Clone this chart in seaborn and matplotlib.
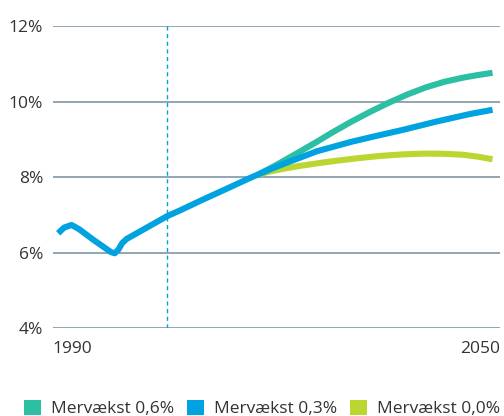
import numpy as np
import pandas as pd
import matplotlib
matplotlib.use("Agg")
import matplotlib.pyplot as plt
import seaborn as sns
from matplotlib.patches import Patch

sns.set_theme(style="white")
plt.rcParams['font.family'] = ['Open Sans', 'DejaVu Sans']

# historical + 0.3% scenario (blue)
years_blue = [1990.7, 1991.5, 1992.5, 1993.5, 1995.4, 1997, 1997.8, 1998.3, 1998.8, 1999.3,
              1999.9, 2001.7, 2005.3, 2007, 2010, 2013, 2016.4, 2019, 2021, 2025.4,
              2030, 2033, 2037, 2041.5, 2046, 2049]
vals_blue = [6.51, 6.66, 6.73, 6.62, 6.34, 6.12, 6.01, 5.98, 6.08, 6.25,
             6.36, 6.56, 6.96, 7.11, 7.39, 7.66, 7.97, 8.19, 8.35, 8.68,
             8.93, 9.07, 9.25, 9.47, 9.67, 9.78]

years_06 = [2017.5, 2020, 2022.5, 2025.4, 2027.5, 2030, 2032.5, 2035, 2037.5, 2040,
            2042.5, 2045, 2047, 2049]
vals_06 = [8.06, 8.32, 8.60, 8.93, 9.18, 9.46, 9.72, 9.96, 10.18, 10.37,
           10.52, 10.63, 10.70, 10.76]

years_00 = [2017.5, 2019, 2021, 2023, 2025.4, 2028, 2031, 2034, 2037, 2040,
            2042.5, 2045, 2047, 2049]
vals_00 = [8.06, 8.14, 8.22, 8.29, 8.36, 8.43, 8.50, 8.56, 8.60, 8.62,
           8.615, 8.59, 8.54, 8.47]

labels = ["Mervækst 0,6%", "Mervækst 0,3%", "Mervækst 0,0%"]
colors = ["#2bbfa4", "#00a3e0", "#bcd631"]
yticks = [4, 6, 8, 10, 12]

fig = plt.figure(figsize=(5.04, 4.16), dpi=100)
ax = fig.add_axes([0.105, 0.2115, 0.887, 0.726])

for y in yticks:
    ax.axhline(y, color="#7e97a6", lw=1.2, zorder=0)
ax.axvline(2005.3, color="#00a3e0", lw=1.0, ls=(0, (3, 2.5)), zorder=1)

lw = 4.4
kw = dict(lw=lw, solid_joinstyle="round", solid_capstyle="butt")
sns.lineplot(x=years_06, y=vals_06, ax=ax, color=colors[0], **kw)
sns.lineplot(x=years_00, y=vals_00, ax=ax, color=colors[2], **kw)
sns.lineplot(x=years_blue, y=vals_blue, ax=ax, color=colors[1], **kw)

ax.set_xlim(1990, 2050)
ax.set_ylim(4, 12)
ax.set_yticks(yticks)
ax.set_yticklabels([f"{v}%" for v in yticks], fontsize=12.5, color="#333333")
ax.set_xticks([1990, 2050])
ax.set_xticklabels(["1990", "2050"], fontsize=12.5, color="#333333")
ax.get_xticklabels()[0].set_horizontalalignment("left")
ax.get_xticklabels()[1].set_horizontalalignment("right")
ax.tick_params(axis="y", length=0, pad=7)
ax.tick_params(axis="x", length=0, pad=9)
for s in ax.spines.values():
    s.set_visible(False)
ax.set_xlabel("")
ax.set_ylabel("")

handles = [Patch(facecolor=c, edgecolor="none") for c in colors]
fig.legend(handles, labels, loc="lower center", bbox_to_anchor=(0.52, -0.04), ncol=3,
           frameon=False, fontsize=12.5, handlelength=0.95, handleheight=0.95,
           handletextpad=0.6, columnspacing=0.75, labelcolor="#333333")

fig.savefig("out.png", dpi=100)
